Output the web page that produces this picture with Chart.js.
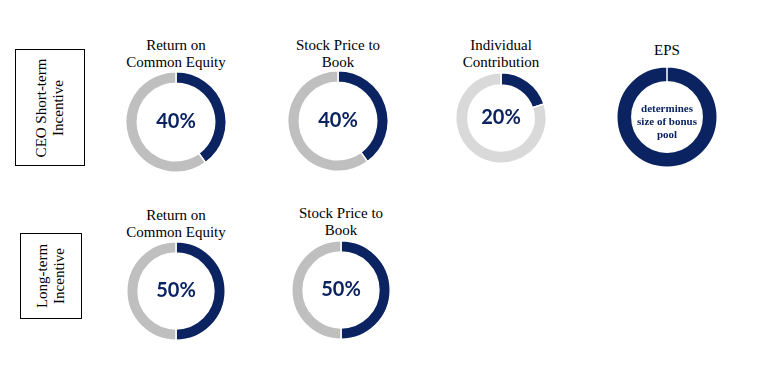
<!DOCTYPE html>
<html>
<head>
<meta charset="utf-8">
<script src="https://cdn.jsdelivr.net/npm/chart.js@4/dist/chart.umd.min.js"></script>
<style>
  body { margin: 0; background: #fff; }
  #page { position: relative; width: 758px; height: 366px; overflow: hidden; }
  .title { position: absolute; width: 170px; text-align: center; font-family: "Liberation Serif", "Times New Roman", serif; font-size: 15px; line-height: 17px; color: #000; white-space: pre; }
  .box { position: absolute; border: 1px solid #000; box-sizing: border-box; }
  .box span { position: absolute; left: 50%; top: 50%; transform: translate(-50%, -50%) rotate(-90deg); font-family: "Liberation Serif", "Times New Roman", serif; font-size: 15px; line-height: 17px; text-align: center; white-space: pre; }
  canvas { position: absolute; }
</style>
</head>
<body>
<div id="page"></div>
<script>
// data
const titles = ['Return on\nCommon Equity', 'Stock Price to\nBook', 'Individual\nContribution', 'EPS', 'Return on\nCommon Equity', 'Stock Price to\nBook'];
const values = [40, 40, 20, 100, 50, 50];
const centerLabels = ['40%', '40%', '20%', 'determines\nsize of bonus\npool', '50%', '50%'];
const groupLabels = ['CEO Short-term\nIncentive', 'Long-term\nIncentive'];

// layout (centre x, centre y, radius, cutout, title top, grey)
const layout = [
  {cx: 176, cy: 122, r: 50, cut: '77%', ty: 37, grey: '#bfbfbf'},
  {cx: 338, cy: 121, r: 50, cut: '77%', ty: 37, grey: '#bfbfbf'},
  {cx: 501, cy: 118, r: 45, cut: '73%', ty: 37, grey: '#d9d9d9'},
  {cx: 667, cy: 117, r: 50, cut: '70%', ty: 42, grey: '#bfbfbf'},
  {cx: 176, cy: 291, r: 49, cut: '77%', ty: 207, grey: '#bfbfbf'},
  {cx: 341, cy: 290, r: 49, cut: '77%', ty: 205, grey: '#bfbfbf'}
];
const boxes = [
  {x: 15, y: 49, w: 70, h: 117},
  {x: 20, y: 233, w: 62, h: 86}
];
const navy = '#0b2461';

const page = document.getElementById('page');

boxes.forEach((b, i) => {
  const d = document.createElement('div');
  d.className = 'box';
  d.style.left = b.x + 'px'; d.style.top = b.y + 'px';
  d.style.width = b.w + 'px'; d.style.height = b.h + 'px';
  const s = document.createElement('span');
  s.textContent = groupLabels[i];
  d.appendChild(s);
  page.appendChild(d);
});

// draws the text in the hole
const centerText = {
  id: 'centerText',
  afterDraw(chart, args, opts) {
    const ctx = chart.ctx;
    const arc = chart.getDatasetMeta(0).data[0];
    const lines = opts.text.split('\n');
    ctx.save();
    ctx.fillStyle = navy;
    ctx.font = opts.font;
    ctx.textAlign = 'center';
    ctx.textBaseline = 'middle';
    const y0 = arc.y + opts.dy - (lines.length - 1) * opts.lineHeight / 2;
    lines.forEach((l, k) => ctx.fillText(l, arc.x, y0 + k * opts.lineHeight));
    ctx.restore();
  }
};

values.forEach((v, i) => {
  const L = layout[i];
  const t = document.createElement('div');
  t.className = 'title';
  t.textContent = titles[i];
  t.style.left = (L.cx - 85) + 'px';
  t.style.top = L.ty + 'px';
  page.appendChild(t);

  const size = L.r * 2 + 2;
  const cv = document.createElement('canvas');
  cv.width = size; cv.height = size;
  cv.style.left = (L.cx - size / 2) + 'px';
  cv.style.top = (L.cy - size / 2) + 'px';
  page.appendChild(cv);

  const isText = centerLabels[i].includes('\n');
  new Chart(cv.getContext('2d'), {
    type: 'doughnut',
    data: {
      labels: ['value', 'rest'],
      datasets: [{
        data: [v, 100 - v],
        backgroundColor: [navy, L.grey],
        borderColor: '#ffffff',
        borderWidth: 1.5
      }]
    },
    options: {
      responsive: false,
      animation: false,
      cutout: L.cut,
      layout: { padding: 0 },
      plugins: {
        legend: { display: false },
        tooltip: { enabled: false },
        centerText: isText
          ? { text: centerLabels[i], font: 'bold 11px "Liberation Serif", serif', lineHeight: 13, dy: 5 }
          : { text: centerLabels[i], font: 'bold 20px Lato, sans-serif', lineHeight: 20, dy: 0 }
      }
    },
    plugins: [centerText]
  });
});
</script>
</body>
</html>
